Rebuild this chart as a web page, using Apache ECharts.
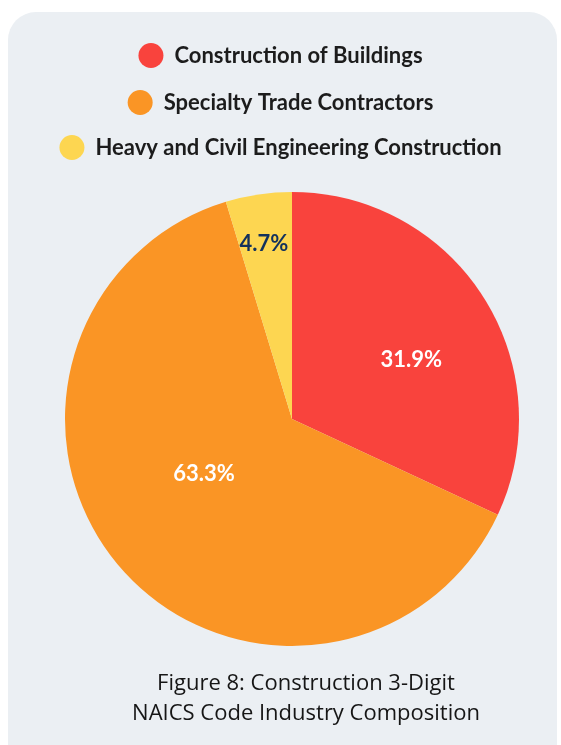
<!DOCTYPE html>
<html>
<head>
<meta charset="utf-8">
<script src="https://cdn.jsdelivr.net/npm/echarts@6/dist/echarts.min.js"></script>
<style>
  html, body { margin: 0; padding: 0; background: #ffffff; }
  #chart { width: 561px; height: 745px; }
</style>
</head>
<body>
<div id="chart"></div>
<script>
// industry groups and their share (%)
const categories = ['Construction of Buildings', 'Specialty Trade Contractors', 'Heavy and Civil Engineering Construction'];
const shares = [31.9, 63.3, 4.7];
const colors = ['#f9433d', '#fa9525', '#fdd651'];
const labelColors = ['#ffffff', '#ffffff', '#13315c'];
// nudges so labels sit where the original places them
const labelOffsets = [[21, 4], [0, -22], [-11, -60]];

const font = 'Lato, "Noto Sans", sans-serif';

const legendTops = [38, 85, 130];
const legends = categories.map(function (name, i) {
  return {
    data: [name],
    top: legendTops[i],
    left: 'center',
    icon: 'circle',
    itemWidth: 25,
    itemHeight: 25,
    selectedMode: false,
    textStyle: { fontFamily: font, fontSize: 22, fontWeight: 'bold', color: '#1c1c1c', padding: [0, 0, 0, 6] }
  };
});

const chart = echarts.init(document.getElementById('chart'));
chart.setOption({
  backgroundColor: '#ffffff',
  color: colors,
  graphic: [{
    type: 'rect',
    z: -10,
    shape: { x: 8, y: 12, width: 549, height: 800, r: 28 },
    style: { fill: '#ebeff3' }
  }],
  title: {
    text: 'Figure 8: Construction 3-Digit\nNAICS Code Industry Composition',
    left: 301,
    top: 664,
    textAlign: 'center',
    textStyle: { fontFamily: '"Open Sans", Lato, sans-serif', fontSize: 22, fontWeight: 'normal', color: '#161616', lineHeight: 30 }
  },
  legend: legends,
  series: [{
    type: 'pie',
    center: [292, 419],
    radius: [0, 227],
    startAngle: 90,
    clockwise: true,
    animation: false,
    silent: true,
    label: {
      position: 'inside',
      fontFamily: font,
      fontSize: 22,
      fontWeight: 'bold',
      formatter: function (p) { return p.value.toFixed(1) + '%'; }
    },
    labelLine: { show: false },
    data: categories.map(function (name, i) {
      return {
        name: name,
        value: shares[i],
        label: { color: labelColors[i], offset: labelOffsets[i] }
      };
    })
  }]
});
</script>
</body>
</html>
